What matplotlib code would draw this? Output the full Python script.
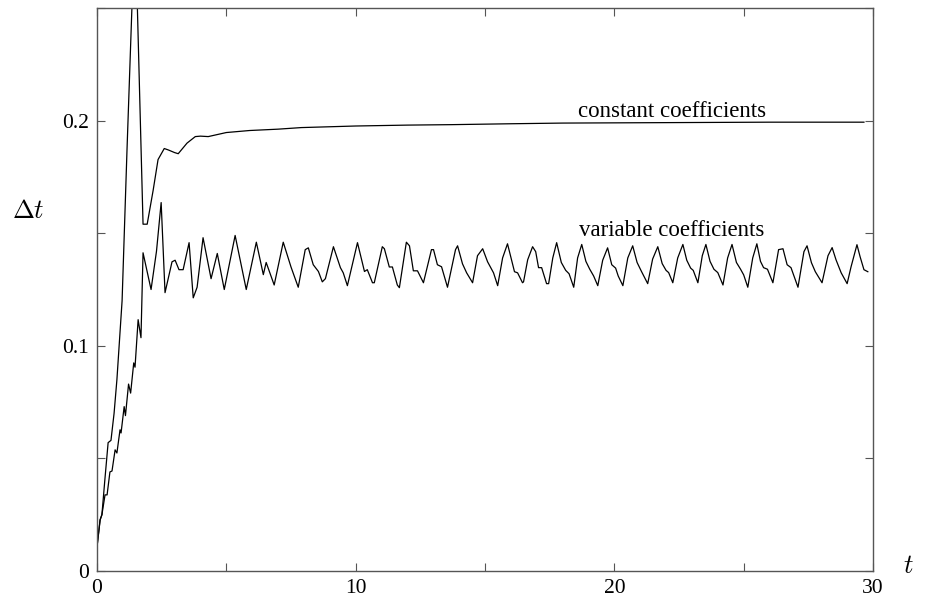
import matplotlib
matplotlib.use("Agg")
import matplotlib.pyplot as plt

plt.rcParams['font.family'] = ['Liberation Serif', 'DejaVu Serif']
plt.rcParams['mathtext.fontset'] = 'cm'

# constant coefficients time-step history
const_t = [0.00, 0.12, 0.19, 0.30, 0.43, 0.54, 0.66, 0.77, 0.97, 1.16, 1.47,
           1.78, 1.94, 2.17, 2.36, 2.60, 2.75, 3.00, 3.14, 3.48, 3.80, 4.00,
           4.30, 5.00, 5.90, 7.00, 7.90, 10.0, 12.0, 13.7, 16.0, 18.0, 22.0,
           26.0, 29.65]
const_v = [0.0107, 0.0227, 0.0250, 0.0400, 0.0570, 0.0580, 0.0700, 0.0850,
           0.1200, 0.1870, 0.2900, 0.1540, 0.1540, 0.1690, 0.1827, 0.1876,
           0.1870, 0.1858, 0.1853, 0.1900, 0.1929, 0.1931, 0.1929, 0.1947,
           0.1956, 0.1962, 0.1969, 0.1976, 0.1980, 0.1982, 0.1986, 0.1989,
           0.1991, 0.1993, 0.1993]

# variable coefficients time-step history
var_t = [0.00, 0.12, 0.19, 0.31, 0.39, 0.50, 0.58, 0.70, 0.77, 0.89, 0.93,
         1.05, 1.10, 1.22, 1.30, 1.42, 1.47, 1.59, 1.70, 1.78,
         2.09, 2.30, 2.48, 2.63, 2.90, 3.02, 3.17, 3.33, 3.56, 3.72, 3.87,
         4.10, 4.41, 4.65, 4.92, 5.34, 5.77, 6.16, 6.43, 6.54, 6.85, 7.20,
         7.50, 7.78, 8.05, 8.17, 8.36, 8.56, 8.71, 8.83, 9.14, 9.41, 9.52,
         9.68, 10.07, 10.34, 10.45, 10.65, 10.72, 11.03, 11.11, 11.30, 11.42,
         11.61, 11.69, 11.96, 12.08, 12.23, 12.39, 12.58, 12.62, 12.93, 13.01,
         13.16, 13.32, 13.55, 13.86, 13.94, 14.13, 14.29, 14.52, 14.71, 14.91,
         15.10, 15.33, 15.49, 15.68, 15.87, 16.14, 16.26, 16.45, 16.49, 16.65,
         16.84, 16.96, 17.07, 17.19, 17.38, 17.46,
         17.62, 17.77, 17.95, 18.12, 18.25, 18.43,
         18.58, 18.74, 18.90, 19.05, 19.20, 19.36,
         19.55, 19.74, 19.90, 20.05, 20.15, 20.33,
         20.52, 20.71, 20.88, 21.05, 21.29,
         21.48, 21.68, 21.85, 22.00, 22.10, 22.26,
         22.45, 22.65, 22.80, 22.95, 23.05, 23.23,
         23.40, 23.54, 23.70, 23.85, 24.00, 24.20,
         24.38, 24.55, 24.72, 24.88, 25.00, 25.16,
         25.35, 25.51, 25.65, 25.77, 25.92, 26.13,
         26.35, 26.52, 26.68, 26.83, 27.10,
         27.33, 27.45, 27.62, 27.77, 28.03,
         28.26, 28.42, 28.57, 28.77, 29.00,
         29.15, 29.38, 29.50, 29.65, 29.80]
var_v = [0.0107, 0.0227, 0.0250, 0.0338, 0.0338, 0.0440, 0.0444, 0.0538,
         0.0524, 0.0627, 0.0613, 0.0730, 0.0690, 0.0830, 0.0790, 0.0924,
         0.0905, 0.1116, 0.1036, 0.1413,
         0.1250, 0.1420, 0.1636, 0.1236, 0.1373, 0.1380, 0.1338, 0.1338,
         0.1458, 0.1213, 0.1260,
         0.1480, 0.1298, 0.1410, 0.1250, 0.1490, 0.1250, 0.1460, 0.1316,
         0.1370, 0.1270, 0.1460, 0.1350, 0.1260, 0.1427, 0.1435, 0.1360,
         0.1330, 0.1284, 0.1298, 0.1440, 0.1347, 0.1324, 0.1267, 0.1458,
         0.1330, 0.1338, 0.1280, 0.1280, 0.1440, 0.1431, 0.1350, 0.1350,
         0.1270, 0.1258, 0.1460, 0.1444, 0.1333, 0.1333, 0.1290, 0.1280,
         0.1427, 0.1427, 0.1360, 0.1351, 0.1260, 0.1427, 0.1444, 0.1364,
         0.1324, 0.1280, 0.1400, 0.1431, 0.1373, 0.1324, 0.1267, 0.1390,
         0.1453, 0.1329, 0.1324, 0.1280, 0.1284, 0.1382, 0.1440, 0.1418,
         0.1347, 0.1347, 0.1276, 0.1276,
         0.1390, 0.1458, 0.1370, 0.1335, 0.1320, 0.1260,
         0.1390, 0.1450, 0.1375, 0.1340, 0.1310, 0.1267,
         0.1380, 0.1435, 0.1360, 0.1345, 0.1310, 0.1267,
         0.1390, 0.1444, 0.1370, 0.1330, 0.1276,
         0.1385, 0.1440, 0.1365, 0.1335, 0.1325, 0.1280,
         0.1390, 0.1450, 0.1380, 0.1345, 0.1335, 0.1280,
         0.1400, 0.1450, 0.1375, 0.1340, 0.1325, 0.1270,
         0.1390, 0.1450, 0.1370, 0.1340, 0.1315, 0.1260,
         0.1390, 0.1453, 0.1375, 0.1347, 0.1340, 0.1280,
         0.1427, 0.1431, 0.1360, 0.1347, 0.1260,
         0.1418, 0.1444, 0.1369, 0.1329, 0.1280,
         0.1400, 0.1436, 0.1382, 0.1324, 0.1276,
         0.1350, 0.1449, 0.1396, 0.1338, 0.1329]

x_ticks = [0, 10, 20, 30]
y_ticks = [0, 0.1, 0.2]
y_tick_labels = ['0', '0.1', '0.2']

fig = plt.figure(figsize=(9.25, 6.04), dpi=100)
ax = fig.add_axes([97/925, 1-571/604, (873-97)/925, (571-8)/604])

ax.plot(const_t, const_v, color='black', lw=0.9)
ax.plot(var_t, var_v, color='black', lw=0.9)

ax.set_xlim(0, 30)
ax.set_ylim(0, 0.25)
ax.set_xticks(x_ticks)
ax.set_xticklabels([str(v) for v in x_ticks])
ax.set_yticks(y_ticks)
ax.set_yticklabels(y_tick_labels)
ax.set_xticks([5, 15, 25], minor=True)
ax.set_yticks([0.05, 0.15, 0.25], minor=True)
ax.tick_params(which='both', direction='in', top=True, right=True,
               length=6, width=0.8, color='#555555', labelsize=15.5, pad=6)
for s in ax.spines.values():
    s.set_color('#555555')
    s.set_linewidth(1.0)

ax.text(18.58, 0.2018, 'constant coefficients', fontsize=16.5, ha='left', va='baseline')
ax.text(18.62, 0.1489, 'variable coefficients', fontsize=16.5, ha='left', va='baseline')

fig.text(28/925, 1-212/604, r'$\Delta t$', fontsize=19, ha='center', va='center')
fig.text(908/925, 1-567/604, r'$t$', fontsize=19, ha='center', va='center')

fig.savefig('out.png', dpi=100)
